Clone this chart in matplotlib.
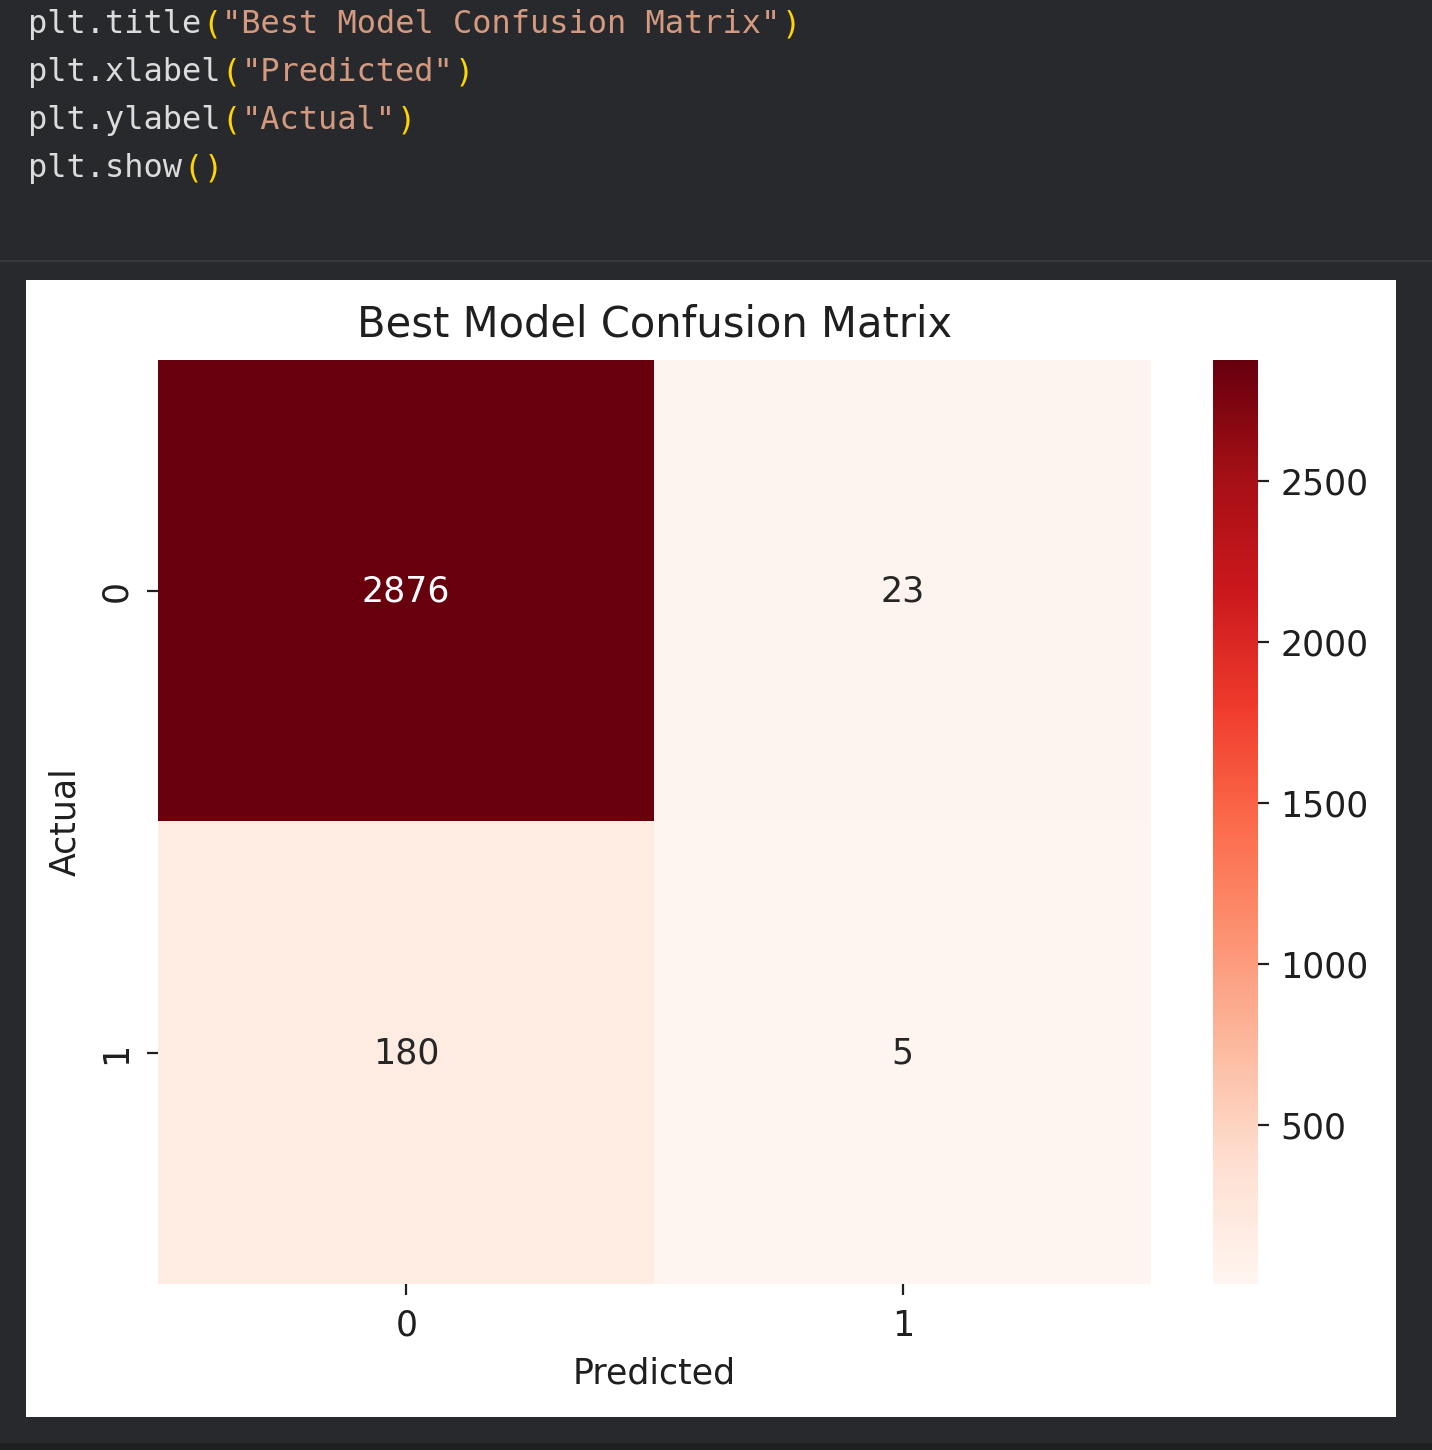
import numpy as np
import matplotlib
matplotlib.use("Agg")
import matplotlib.pyplot as plt
from matplotlib.patches import Rectangle

# confusion matrix values
cm = np.array([[2876, 23],
               [180, 5]])
class_labels = ["0", "1"]
cbar_ticks = [500, 1000, 1500, 2000, 2500]
title = "Best Model Confusion Matrix"
xlabel = "Predicted"
ylabel = "Actual"

# code lines shown above the chart: (text, kind) pieces
code_lines = [
    [("plt.title", "t"), ("(", "p"), ('"Best Model Confusion Matrix"', "s"), (")", "p")],
    [("plt.xlabel", "t"), ("(", "p"), ('"Predicted"', "s"), (")", "p")],
    [("plt.ylabel", "t"), ("(", "p"), ('"Actual"', "s"), (")", "p")],
    [("plt.show", "t"), ("(", "p"), (")", "p")],
]
code_colors = {"t": "#dcdcdc", "p": "#ffd500", "s": "#d49a80"}

W, H = 1432, 1450
fig = plt.figure(figsize=(W / 100, H / 100), dpi=100)
fig.patch.set_facecolor("#28292c")

def fx(px):
    return px / W

def fy(py):
    return 1 - py / H

# editor part: each piece starts where the previous one ends
renderer = fig.canvas.get_renderer()
for i, line in enumerate(code_lines):
    x0 = 28
    for txt, kind in line:
        t = fig.text(fx(x0), fy(33 + i * 48), txt, color=code_colors[kind],
                     fontsize=23, family="DejaVu Sans Mono", va="baseline", ha="left")
        x0 += t.get_window_extent(renderer).width + 1

# separator and bottom strip
fig.add_artist(Rectangle((0, fy(262)), 1, 2 / H, transform=fig.transFigure,
                         facecolor="#37383b", edgecolor="none"))
fig.add_artist(Rectangle((0, 0), 1, 7 / H, transform=fig.transFigure,
                         facecolor="#1e1f21", edgecolor="none"))

# white output panel
fig.add_artist(Rectangle((fx(26), fy(1417)), fx(1370), 1137 / H, transform=fig.transFigure,
                         facecolor="white", edgecolor="none", zorder=0))

ax = fig.add_axes([fx(158), fy(1284), fx(993), 924 / H])
cax = fig.add_axes([fx(1213), fy(1284), fx(45), 924 / H])

im = ax.imshow(cm, cmap="Reds", aspect="auto", vmin=cm.min(), vmax=cm.max())
for i in range(cm.shape[0]):
    for j in range(cm.shape[1]):
        c = "white" if cm[i, j] > cm.max() / 2 else "#262626"
        ax.text(j, i, str(cm[i, j]), ha="center", va="center", color=c, fontsize=25)

for s in ax.spines.values():
    s.set_visible(False)
ax.set_xticks(range(len(class_labels)))
ax.set_xticklabels(class_labels)
ax.set_yticks(range(len(class_labels)))
ax.set_yticklabels(class_labels, rotation=90, va="center")
ax.tick_params(labelsize=25, length=8, width=1.6, pad=10, colors="#1f1f1f")
ax.set_title(title, fontsize=30, pad=17, color="#1f1f1f")
ax.set_xlabel(xlabel, fontsize=25, labelpad=10, color="#1f1f1f")
ax.set_ylabel(ylabel, fontsize=25, labelpad=12, color="#1f1f1f")

cb = fig.colorbar(im, cax=cax, ticks=cbar_ticks)
cb.outline.set_visible(False)
cb.ax.tick_params(labelsize=25, length=8, width=1.6, pad=8, colors="#1f1f1f")

fig.savefig("out.png", dpi=100, facecolor=fig.get_facecolor())
